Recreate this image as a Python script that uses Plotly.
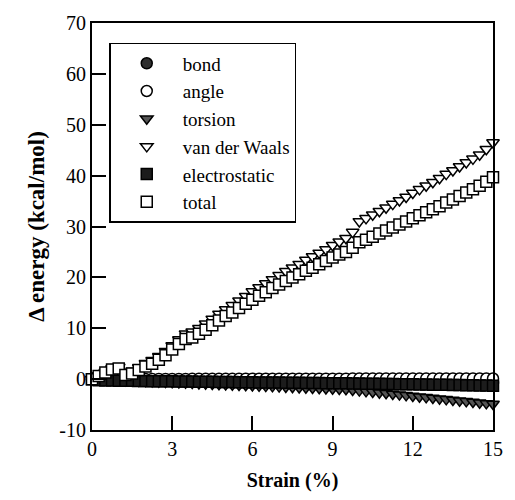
import plotly.graph_objects as go

# Strain steps (%)
strain = [0.0, 0.25, 0.5, 0.75, 1.0, 1.25, 1.5, 1.75, 2.0, 2.25, 2.5, 2.75, 3.0, 3.25, 3.5, 3.75,
          4.0, 4.25, 4.5, 4.75, 5.0, 5.25, 5.5, 5.75, 6.0, 6.25, 6.5, 6.75, 7.0, 7.25, 7.5, 7.75,
          8.0, 8.25, 8.5, 8.75, 9.0, 9.25, 9.5, 9.75, 10.0, 10.25, 10.5, 10.75, 11.0, 11.25, 11.5,
          11.75, 12.0, 12.25, 12.5, 12.75, 13.0, 13.25, 13.5, 13.75, 14.0, 14.25, 14.5, 14.75, 15.0]

# Energy components (kcal/mol)
bond = [0.0, -0.02, -0.05, -0.07, -0.1, -0.12, -0.14, -0.16, -0.18, -0.2, -0.22, -0.23, -0.25,
        -0.27, -0.28, -0.3, -0.31, -0.33, -0.34, -0.35, -0.37, -0.38, -0.39, -0.4, -0.42, -0.43,
        -0.44, -0.45, -0.46, -0.47, -0.48, -0.49, -0.5, -0.51, -0.52, -0.53, -0.54, -0.55, -0.56,
        -0.57, -0.58, -0.59, -0.6, -0.6, -0.61, -0.62, -0.63, -0.64, -0.65, -0.65, -0.66, -0.67,
        -0.68, -0.69, -0.7, -0.7, -0.71, -0.72, -0.73, -0.74, -0.75]
angle = [0.0, 0.0, 0.01, 0.01, 0.01, 0.02, 0.02, 0.02, 0.03, 0.03, 0.03, 0.04, 0.04, 0.04, 0.04,
         0.05, 0.05, 0.05, 0.05, 0.06, 0.06, 0.06, 0.06, 0.07, 0.07, 0.07, 0.07, 0.07, 0.08, 0.08,
         0.08, 0.08, 0.08, 0.09, 0.09, 0.09, 0.09, 0.09, 0.09, 0.1, 0.1, 0.1, 0.1, 0.1, 0.1, 0.1,
         0.11, 0.11, 0.11, 0.11, 0.11, 0.11, 0.11, 0.12, 0.12, 0.12, 0.12, 0.12, 0.12, 0.12, 0.12]
torsion = [0.0, -0.05, -0.1, -0.15, -0.2, -0.26, -0.32, -0.37, -0.42, -0.47, -0.53, -0.58, -0.63,
           -0.68, -0.74, -0.79, -0.84, -0.89, -0.95, -1.0, -1.05, -1.1, -1.16, -1.21, -1.26,
           -1.32, -1.37, -1.42, -1.47, -1.53, -1.58, -1.63, -1.68, -1.74, -1.79, -1.84, -1.89,
           -1.95, -2.0, -2.13, -2.26, -2.4, -2.53, -2.66, -2.79, -2.92, -3.05, -3.19, -3.32,
           -3.45, -3.58, -3.71, -3.84, -3.98, -4.11, -4.24, -4.37, -4.5, -4.63, -4.77, -4.9]
vdw = [0.0, 0.7, 1.4, 2.1, 2.4, 1.2, 1.6, 2.3, 3.1, 3.7, 4.5, 5.5, 6.6, 7.8, 8.9, 9.3, 10.0, 10.9,
       11.8, 12.8, 13.7, 14.5, 15.4, 16.3, 17.2, 18.0, 18.8, 19.6, 20.4, 21.2, 21.9, 22.6, 23.4,
       24.1, 24.8, 25.5, 26.3, 27.0, 27.7, 28.9, 31.0, 31.6, 32.3, 33.0, 33.7, 34.4, 35.1, 35.8,
       36.6, 37.3, 38.0, 38.7, 39.5, 40.3, 41.0, 41.8, 42.6, 43.3, 44.1, 45.2, 46.5]
electrostatic = [0.0, -0.2, -0.25, -0.28, -0.3, -0.32, -0.34, -0.36, -0.38, -0.4, -0.41, -0.43,
                 -0.44, -0.46, -0.47, -0.49, -0.5, -0.52, -0.53, -0.55, -0.56, -0.58, -0.59,
                 -0.61, -0.62, -0.64, -0.65, -0.67, -0.68, -0.7, -0.71, -0.73, -0.74, -0.76,
                 -0.77, -0.79, -0.8, -0.82, -0.83, -0.85, -0.87, -0.89, -0.91, -0.93, -0.95,
                 -0.97, -0.99, -1.01, -1.03, -1.05, -1.07, -1.09, -1.11, -1.13, -1.15, -1.17,
                 -1.19, -1.21, -1.23, -1.26, -1.3]
total = [0.0, 0.6, 1.3, 1.9, 2.1, 0.8, 1.1, 1.8, 2.5, 3.0, 3.8, 4.7, 5.8, 6.9, 7.9, 8.2, 8.9, 9.7,
         10.6, 11.5, 12.4, 13.1, 14.0, 14.8, 15.6, 16.4, 17.1, 17.9, 18.6, 19.3, 20.0, 20.6, 21.3,
         21.9, 22.6, 23.2, 23.9, 24.5, 25.0, 25.8, 26.9, 27.4, 28.0, 28.6, 29.2, 29.8, 30.4, 31.0,
         31.6, 32.2, 32.8, 33.4, 34.0, 34.7, 35.3, 36.0, 36.7, 37.3, 38.0, 38.8, 39.7]

x_ticks = [0, 3, 6, 9, 12, 15]
y_ticks = [-10, 0, 10, 20, 30, 40, 50, 60, 70]
y_tick_text = ["-10", "0", "10", "20", "30", "40", "50", "60", "70"]

series = [
    ("bond", bond, "circle", "#2e2e2e"),
    ("angle", angle, "circle", "white"),
    ("torsion", torsion, "triangle-down", "#555555"),
    ("van der Waals", vdw, "triangle-down", "white"),
    ("electrostatic", electrostatic, "square", "#1c1c1c"),
    ("total", total, "square", "white"),
]

SERIF = "Liberation Serif"

fig = go.Figure()
for name, values, symbol, fill in series:
    fig.add_trace(go.Scatter(
        x=strain, y=values, name=name, mode="markers", cliponaxis=False,
        marker=dict(symbol=symbol, size=11, color=fill,
                    line=dict(color="black", width=1.5)),
    ))

axis_common = dict(
    showgrid=False, zeroline=False, showline=True, linecolor="black", linewidth=2,
    mirror=True, ticks="inside", ticklen=14, tickwidth=1.5, tickcolor="black",
    tickfont=dict(family=SERIF, size=20, color="black"),
)

fig.update_xaxes(range=[0, 15], tickvals=x_ticks, ticktext=[str(v) for v in x_ticks],
                 title=dict(text="<b>Strain (%)</b>",
                            font=dict(family=SERIF, size=20, color="black"), standoff=14),
                 **axis_common)
fig.update_yaxes(range=[-10, 70], tickvals=y_ticks, ticktext=y_tick_text,
                 title=dict(text="<b>Δ energy (kcal/mol)</b>",
                            font=dict(family=SERIF, size=23, color="black"), standoff=8),
                 **axis_common)

fig.update_layout(
    font=dict(family=SERIF, color="black"),
    width=515, height=500,
    margin=dict(l=92, r=15, t=21, b=70),
    paper_bgcolor="white", plot_bgcolor="white",
    showlegend=True,
    legend=dict(x=0.043, y=0.951, xanchor="left", yanchor="top",
                bgcolor="white", bordercolor="black", borderwidth=1.5,
                font=dict(family=SERIF, size=19, color="black"),
                itemwidth=62),
)

fig.write_html("out.html")
